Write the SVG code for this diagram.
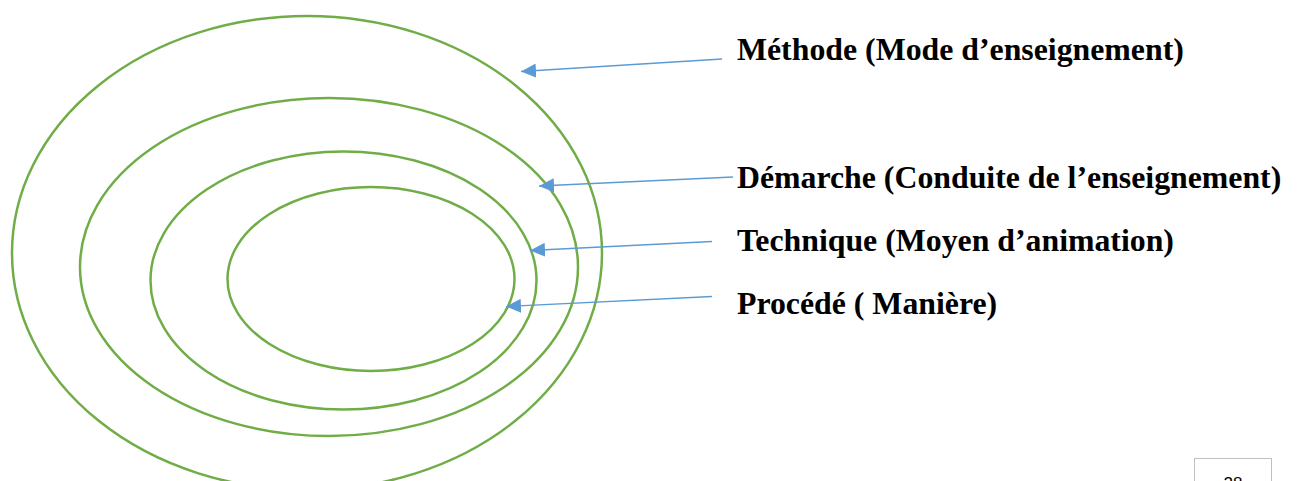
<svg xmlns="http://www.w3.org/2000/svg" width="1301" height="481" viewBox="0 0 1301 481">
<style>
.ring{fill:none;stroke:#70AD47;stroke-width:2.5}
.lbl{font-family:"Liberation Serif","Times New Roman",serif;font-weight:bold;font-size:31.8px;fill:#000}
.arr{stroke:#5B9BD5;stroke-width:1.3;fill:none;marker-end:url(#ah)}
</style>
<defs>
<marker id="ah" markerUnits="userSpaceOnUse" markerWidth="16" markerHeight="14" refX="15" refY="7" orient="auto">
<path d="M0,0 L15,7 L0,14 Z" fill="#5B9BD5"/>
</marker>
</defs>
<rect width="1301" height="481" fill="#fff"/>
<g id="methode"><ellipse class="ring" cx="307" cy="253" rx="295" ry="237"/><text class="lbl" x="737" y="59.5">Méthode (Mode d’enseignement)</text></g>
<g id="demarche"><ellipse class="ring" cx="329" cy="267" rx="249" ry="169"/><text class="lbl" x="737" y="187.5">Démarche (Conduite de l’enseignement)</text></g>
<g id="technique"><ellipse class="ring" cx="343.5" cy="280.5" rx="193" ry="129"/><text class="lbl" x="737" y="251">Technique (Moyen d’animation)</text></g>
<g id="procede"><ellipse class="ring" cx="371" cy="279" rx="143.5" ry="92"/><text class="lbl" x="737" y="313.5">Procédé ( Manière)</text></g>
<g id="connectors">
<line class="arr" x1="722" y1="59" x2="521" y2="71.5"/>
<line class="arr" x1="733" y1="177" x2="539" y2="186"/>
<line class="arr" x1="712" y1="241.5" x2="530" y2="250.5"/>
<line class="arr" x1="712" y1="296.5" x2="506" y2="306.5"/>
</g>
<g id="page"><rect x="1194.5" y="458.5" width="77" height="40" fill="#fff" stroke="#BFBFBF" stroke-width="1"/><text x="1233" y="489" text-anchor="middle" font-family="Liberation Sans, Arial, sans-serif" font-size="17" fill="#000">28</text></g>
</svg>
